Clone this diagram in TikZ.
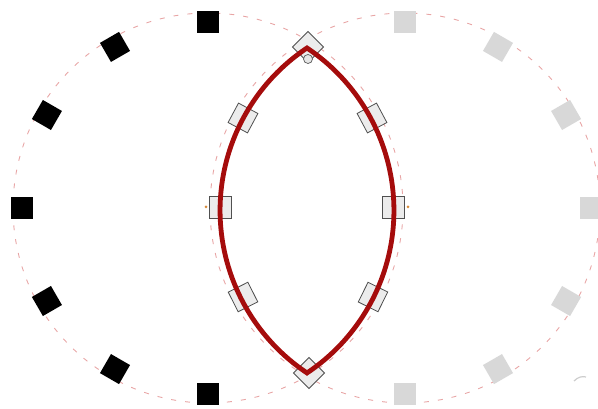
\documentclass[tikz,border=0pt]{standalone}
\usetikzlibrary{calc}
\begin{document}
\begin{tikzpicture}[x=1pt,y=1pt,
  guide/.style={draw={rgb,255:red,232;green,165;blue,165}, line width=0.9pt, dash pattern=on 5pt off 9pt},
  blk/.style={fill=black, draw=none, minimum size=22pt, inner sep=0pt, shape=rectangle},
  gry/.style={fill={rgb,255:red,216;green,216;blue,216}, draw=none, minimum size=22pt, inner sep=0pt, shape=rectangle},
  hnd/.style={fill={rgb,255:red,236;green,236;blue,236}, draw={rgb,255:red,80;green,80;blue,80}, line width=0.8pt, minimum size=22pt, inner sep=0pt, shape=rectangle},
  lens/.style={draw={rgb,255:red,165;green,12;blue,12}, line width=4.8pt, line join=miter},
  tick/.style={fill={rgb,255:red,215;green,140;blue,60}, draw=none, circle, minimum size=3pt, inner sep=0pt}]
\useasboundingbox (0,0) rectangle (598,409);
% guide circles
\coordinate (c1) at (208,201);
\coordinate (c2) at (405,201);
\draw[guide] (c1) circle[radius=195];
\draw[guide] (c2) circle[radius=195];
% black squares on left circle
\foreach \a [count=\i] in {90,120,150,180,210,240,270}
  \node[blk, rotate=\a] (b\i) at ($(c1)+(\a:186)$) {};
% grey squares on right circle
\foreach \a [count=\i] in {90,60,30,0,-30,-60,-90}
  \node[gry, rotate=\a] (g\i) at ($(c2)+(\a:186)$) {};
% faint mark
\draw[draw={rgb,255:red,205;green,205;blue,205}, line width=1.2pt] (574,28) .. controls (578,32) and (582,33) .. (586,32);
% lens handles (below the curve)
\node[tick] (tl) at (206,202) {};
\node[tick] (tr) at (408,202) {};
\node[hnd] (hl) at (220,202) {};
\node[hnd] (hr) at (393,202) {};
\node[hnd, rotate=151.8] (h1) at (243,291) {};
\node[hnd, rotate=28.1] (h2) at (372,291) {};
\node[hnd, rotate=206.7] (h3) at (243,112) {};
\node[hnd, rotate=-26.4] (h4) at (373,112) {};
\node[hnd, rotate=45] (htop) at (308,362) {};
\node[hnd, rotate=45] (hbot) at (309,36) {};
\node[draw={rgb,255:red,90;green,90;blue,90}, fill={rgb,255:red,230;green,230;blue,230}, circle, minimum size=9pt, inner sep=0pt, line width=0.7pt] (hc) at (308,350) {};
% lens
\draw[lens] (307,361) arc[start angle=123.7, end angle=236.3, radius=195.3]
  arc[start angle=-56.3, end angle=56.3, radius=195.3] -- cycle;
\end{tikzpicture}
\end{document}
